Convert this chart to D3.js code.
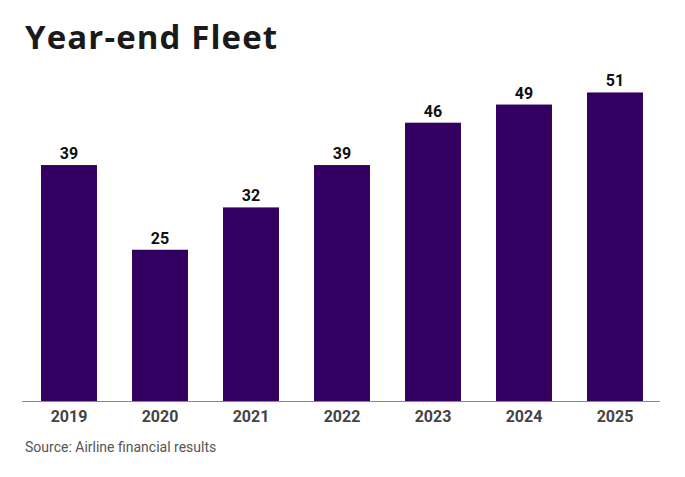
<!DOCTYPE html>
<html>
<head>
<meta charset="utf-8">
<script src="https://cdn.jsdelivr.net/npm/d3@7"></script>
<style>
  body { margin: 0; background: #fff; }
  svg { display: block; }
</style>
</head>
<body>
<svg id="chart" width="685" height="477"></svg>
<script>
// chart data
var years = ['2019', '2020', '2021', '2022', '2023', '2024', '2025'];
var fleet = [39, 25, 32, 39, 46, 49, 51];

var svg = d3.select('#chart');

var margin = {left: 22, right: 25, bottom: 76};
var width = 685, height = 477;
var baseY = height - margin.bottom;

// x: band scale, bars 56px wide on a 91px step
var x = d3.scaleBand()
  .domain(years)
  .range([margin.left, width - 23])
  .paddingInner(0.385)
  .paddingOuter(0.209);

// y: ~6.05px per aircraft
var y = d3.scaleLinear()
  .domain([0, 60])
  .range([baseY, baseY - 363]);

// title
svg.append('text')
  .attr('x', 25)
  .attr('y', 49)
  .attr('font-family', '"Open Sans", sans-serif')
  .attr('font-weight', 700)
  .attr('font-size', 33)
  .attr('letter-spacing', 1.1)
  .attr('fill', '#1a1a1a')
  .text('Year-end Fleet');

// bars
svg.append('g')
  .selectAll('rect')
  .data(fleet)
  .enter()
  .append('rect')
  .attr('x', function (d, i) { return x(years[i]); })
  .attr('y', function (d) { return y(d); })
  .attr('width', x.bandwidth())
  .attr('height', function (d) { return baseY - y(d); })
  .attr('fill', '#330061');

// value labels
svg.append('g')
  .selectAll('text')
  .data(fleet)
  .enter()
  .append('text')
  .attr('x', function (d, i) { return x(years[i]) + x.bandwidth() / 2; })
  .attr('y', function (d) { return y(d) - 6; })
  .attr('text-anchor', 'middle')
  .attr('font-family', 'Roboto, sans-serif')
  .attr('font-weight', 700)
  .attr('font-size', 16)
  .attr('fill', '#111')
  .text(function (d) { return d; });

// x axis
var xAxis = svg.append('g')
  .attr('transform', 'translate(0,' + (baseY + 0.5) + ')')
  .call(d3.axisBottom(x).tickSize(0).tickPadding(9));

xAxis.select('.domain')
  .attr('stroke', '#888')
  .attr('d', 'M' + margin.left + ',0H' + (width - margin.right));

xAxis.selectAll('text')
  .attr('font-family', 'Roboto, sans-serif')
  .attr('font-weight', 700)
  .attr('font-size', 16)
  .attr('fill', '#444');

// source note
svg.append('text')
  .attr('x', 25)
  .attr('y', 452)
  .attr('font-family', 'Roboto, sans-serif')
  .attr('font-size', 14)
  .attr('fill', '#555')
  .text('Source: Airline financial results');
</script>
</body>
</html>
